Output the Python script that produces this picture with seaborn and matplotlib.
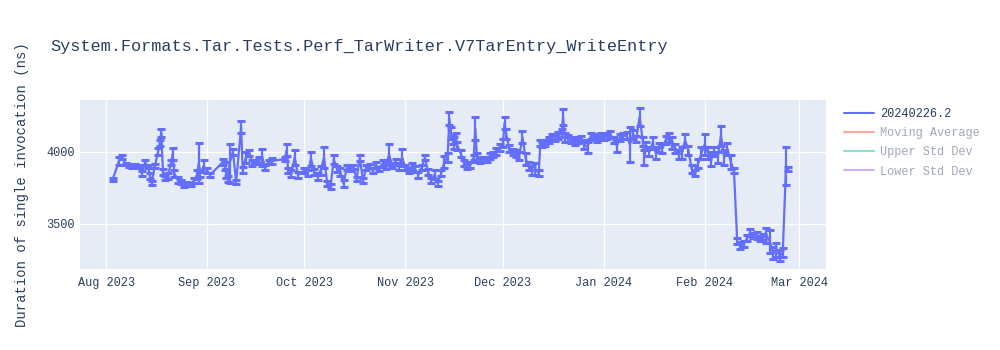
import matplotlib
matplotlib.use("Agg")
import matplotlib.pyplot as plt
import matplotlib.dates as mdates
from matplotlib.lines import Line2D
import pandas as pd
import seaborn as sns

title = "System.Formats.Tar.Tests.Perf_TarWriter.V7TarEntry_WriteEntry"
y_label = "Duration of single invocation (ns)"
series_name = "20240226.2"
legend_names = ["20240226.2", "Moving Average", "Upper Std Dev", "Lower Std Dev"]

run_dates = [
    "2023-08-03", "2023-08-05", "2023-08-06", "2023-08-07", "2023-08-08", "2023-08-09",
    "2023-08-10", "2023-08-11", "2023-08-12", "2023-08-13", "2023-08-14", "2023-08-14 12:00",
    "2023-08-15", "2023-08-16", "2023-08-17", "2023-08-17 12:00", "2023-08-18", "2023-08-18 12:00",
    "2023-08-19", "2023-08-20", "2023-08-21", "2023-08-21 12:00", "2023-08-22", "2023-08-23",
    "2023-08-24", "2023-08-25", "2023-08-26", "2023-08-27", "2023-08-28", "2023-08-29",
    "2023-08-29 12:00", "2023-08-30", "2023-08-31", "2023-09-01", "2023-09-02", "2023-09-06",
    "2023-09-06 12:00", "2023-09-07", "2023-09-07 12:00", "2023-09-08", "2023-09-09", "2023-09-10",
    "2023-09-11 12:00", "2023-09-12", "2023-09-13", "2023-09-14", "2023-09-15", "2023-09-16",
    "2023-09-17", "2023-09-18", "2023-09-19", "2023-09-20", "2023-09-21", "2023-09-25",
    "2023-09-25 12:00", "2023-09-26", "2023-09-27", "2023-09-28", "2023-09-29", "2023-10-01",
    "2023-10-02", "2023-10-03", "2023-10-04", "2023-10-05", "2023-10-06", "2023-10-07",
    "2023-10-08", "2023-10-09", "2023-10-10", "2023-10-11", "2023-10-12", "2023-10-13",
    "2023-10-14", "2023-10-15", "2023-10-16", "2023-10-17", "2023-10-18", "2023-10-19",
    "2023-10-20", "2023-10-21", "2023-10-22", "2023-10-23", "2023-10-24", "2023-10-25",
    "2023-10-26", "2023-10-27", "2023-10-28", "2023-10-29", "2023-10-30", "2023-10-31",
    "2023-11-01", "2023-11-02", "2023-11-03", "2023-11-04", "2023-11-05", "2023-11-06",
    "2023-11-07", "2023-11-08", "2023-11-09", "2023-11-10", "2023-11-11", "2023-11-12",
    "2023-11-13", "2023-11-14", "2023-11-14 12:00", "2023-11-15", "2023-11-15 12:00", "2023-11-16",
    "2023-11-16 12:00", "2023-11-17", "2023-11-18", "2023-11-19", "2023-11-20", "2023-11-21",
    "2023-11-22", "2023-11-22 12:00", "2023-11-23", "2023-11-24", "2023-11-25", "2023-11-26",
    "2023-11-27", "2023-11-28", "2023-11-29", "2023-11-30", "2023-12-01", "2023-12-01 12:00",
    "2023-12-02", "2023-12-03", "2023-12-04", "2023-12-05", "2023-12-06", "2023-12-07",
    "2023-12-08", "2023-12-09", "2023-12-10", "2023-12-11", "2023-12-12", "2023-12-12 12:00",
    "2023-12-13", "2023-12-14", "2023-12-15", "2023-12-16", "2023-12-17", "2023-12-18",
    "2023-12-19", "2023-12-19 12:00", "2023-12-20", "2023-12-21", "2023-12-22", "2023-12-23",
    "2023-12-24", "2023-12-25", "2023-12-26", "2023-12-27", "2023-12-28", "2023-12-29",
    "2023-12-30", "2023-12-31", "2024-01-01", "2024-01-02", "2024-01-03", "2024-01-04",
    "2024-01-05", "2024-01-06", "2024-01-07", "2024-01-08", "2024-01-09", "2024-01-10",
    "2024-01-11", "2024-01-12", "2024-01-13", "2024-01-13 12:00", "2024-01-14", "2024-01-15",
    "2024-01-16", "2024-01-17", "2024-01-18", "2024-01-19", "2024-01-20", "2024-01-21",
    "2024-01-22", "2024-01-23", "2024-01-24", "2024-01-25", "2024-01-26", "2024-01-27",
    "2024-01-28", "2024-01-29", "2024-01-30", "2024-01-31", "2024-02-01", "2024-02-02",
    "2024-02-03", "2024-02-04", "2024-02-05", "2024-02-06", "2024-02-07", "2024-02-08",
    "2024-02-09", "2024-02-10", "2024-02-11", "2024-02-12", "2024-02-13", "2024-02-14",
    "2024-02-15", "2024-02-16", "2024-02-17", "2024-02-18", "2024-02-19", "2024-02-20",
    "2024-02-21", "2024-02-22", "2024-02-23", "2024-02-24", "2024-02-25", "2024-02-26",
    "2024-02-26 12:00",
]

duration_ns = [
    3806, 3935, 3965, 3915, 3905, 3900,
    3905, 3900, 3850, 3925, 3895, 3830,
    3785, 3900, 4000, 4060, 4130, 3860,
    3820, 3830, 3925, 3985, 3850, 3805,
    3790, 3770, 3775, 3770, 3800, 3840,
    3920, 3850, 3900, 3870, 3840, 3930,
    3900, 3850, 3810, 3920, 4000, 3790,
    4170, 3875, 3960, 3990, 3920, 3930,
    3945, 3960, 3890, 3930, 3935, 3950,
    4010, 3870, 3850, 3960, 3840, 3870,
    3850, 3950, 3860, 3830, 3870, 3960,
    3780, 3760, 3945, 3880, 3860, 3780,
    3890, 3880, 3895, 3810, 3955, 3800,
    3890, 3900, 3870, 3910, 3880, 3920,
    3900, 3980, 3905, 3930, 3900, 3960,
    3890, 3870, 3900, 3880, 3840, 3890,
    3960, 3860, 3800, 3840, 3780, 3850,
    3930, 3960, 4230, 4130, 4080, 4060,
    4100, 4040, 3990, 3920, 3900, 3910,
    3960, 4160, 3960, 3940, 3950, 3945,
    3970, 3980, 4000, 4030, 4060, 4200,
    4120, 4020, 4000, 3990, 3970, 4100,
    3950, 3900, 3870, 3880, 3850, 4060,
    4050, 4060, 4080, 4100, 4100, 4110,
    4130, 4240, 4100, 4090, 4080, 4070,
    4080, 4090, 4050, 4030, 4110, 4100,
    4090, 4110, 4100, 4110, 4120, 4080,
    4040, 4100, 4110, 4110, 4050, 4120,
    4090, 4240, 4070, 3960, 4040, 4000,
    4060, 3990, 4030, 4020, 4080, 4100,
    4060, 4020, 3980, 3990, 4080, 4010,
    3880, 3850, 3920, 3990, 4050, 3990,
    3950, 4000, 3960, 4110, 3960, 4020,
    3930, 3870, 3380, 3350, 3360, 3400,
    3440, 3420, 3420, 3400, 3410, 3420,
    3380, 3300, 3320, 3280, 3300, 3900,
    3880,
]

std_dev_ns = [
    10, 25, 15, 10, 10, 10,
    10, 10, 15, 15, 10, 20,
    15, 15, 25, 20, 25, 20,
    15, 20, 20, 40, 25, 20,
    15, 15, 15, 10, 20, 30,
    140, 25, 40, 20, 15, 20,
    30, 30, 20, 135, 20, 15,
    40, 20, 40, 20, 20, 15,
    20, 60, 20, 15, 20, 15,
    40, 20, 25, 50, 20, 20,
    20, 50, 20, 25, 30, 70,
    20, 15, 30, 20, 30, 25,
    20, 15, 15, 15, 20, 15,
    20, 15, 15, 20, 15, 20,
    20, 70, 20, 20, 25, 60,
    20, 20, 25, 20, 20, 20,
    15, 20, 20, 30, 15, 20,
    40, 30, 45, 40, 30, 40,
    30, 25, 25, 20, 20, 20,
    20, 80, 30, 20, 15, 15,
    20, 20, 25, 25, 25, 40,
    35, 25, 20, 25, 30, 40,
    40, 30, 30, 40, 20, 20,
    20, 20, 20, 20, 25, 25,
    30, 55, 30, 25, 20, 25,
    20, 20, 30, 40, 20, 20,
    25, 20, 20, 20, 20, 20,
    40, 25, 20, 25, 120, 30,
    20, 60, 30, 50, 25, 30,
    40, 40, 30, 30, 30, 30,
    40, 30, 30, 40, 40, 30,
    25, 20, 30, 40, 70, 40,
    50, 30, 40, 70, 50, 40,
    50, 15, 20, 25, 20, 20,
    25, 20, 25, 15, 20, 50,
    80, 40, 50, 40, 30, 130,
    15,
]

line_color = "#636efa"
faded_colors = ["#636efa", "#f7aa9d", "#80e5cb", "#d5b1fc"]
text_color = "#2a3f5f"
faded_text = "#a0a8b8"

df = pd.DataFrame({
    "date": pd.to_datetime(run_dates, format="mixed"),
    "duration": duration_ns,
    "std": std_dev_ns,
})

mono = ["Liberation Mono", "DejaVu Sans Mono"]
sns.set_style("darkgrid", {"axes.facecolor": "#E5ECF6", "grid.color": "white"})
plt.rcParams["font.family"] = mono

fig = plt.figure(figsize=(10, 3.5), dpi=100)
ax = fig.add_axes([0.08, 0.231, 0.746, 0.483])
ax.set_facecolor("#E5ECF6")

sns.lineplot(data=df, x="date", y="duration", color=line_color, linewidth=1.6,
             ax=ax, legend=False, estimator=None, sort=True)
ax.errorbar(df["date"], df["duration"], yerr=df["std"], fmt="none",
            ecolor=line_color, elinewidth=1.6, capsize=3, capthick=2.2, zorder=3)

ax.set_xlim(pd.Timestamp("2023-07-24"), pd.Timestamp("2024-03-09 07:00"))
ax.set_ylim(3187, 4357)
ax.set_yticks([3500, 4000])
ax.xaxis.set_major_locator(mdates.MonthLocator())
ax.xaxis.set_major_formatter(mdates.DateFormatter("%b %Y"))
ax.grid(True, color="white", linewidth=1)
ax.set_axisbelow(True)
for s in ax.spines.values():
    s.set_visible(False)
ax.tick_params(axis="both", length=0, colors=text_color, labelsize=8.6)
ax.tick_params(axis="x", pad=6)
ax.tick_params(axis="y", pad=4)
ax.set_xlabel("")
ax.set_ylabel(y_label, fontsize=10, color=text_color)
ax.yaxis.set_label_coords(-0.068, 0.5)

fig.text(0.05, 1 - 46 / 350, title, fontsize=12.2, color=text_color, va="center", ha="left")

handles = [Line2D([0], [0], color=c, linewidth=1.5) for c in faded_colors]
leg = ax.legend(handles, legend_names, loc="upper left", bbox_to_anchor=(0.844, 0.691),
                bbox_transform=fig.transFigure, frameon=False, fontsize=8.6,
                handlelength=2.5, handletextpad=0.5, labelspacing=0.6, borderaxespad=0,
                borderpad=0)
for i, t in enumerate(leg.get_texts()):
    t.set_color(text_color if i == 0 else faded_text)

fig.savefig("out.png", dpi=100)
